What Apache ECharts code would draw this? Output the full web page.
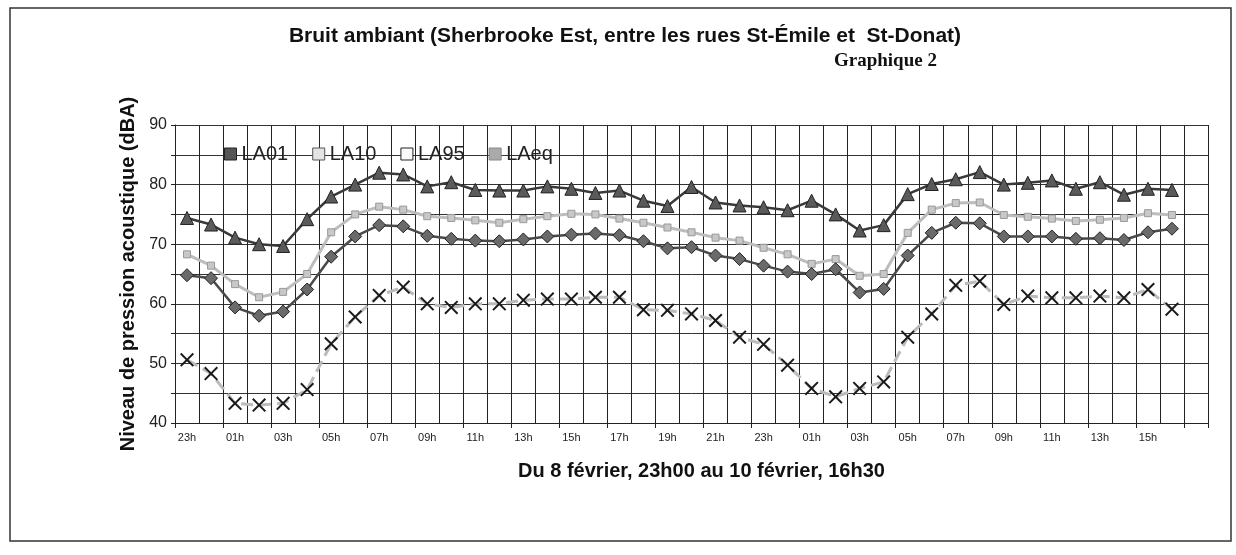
<!DOCTYPE html>
<html>
<head>
<meta charset="utf-8">
<script src="https://cdn.jsdelivr.net/npm/echarts@6/dist/echarts.min.js"></script>
<style>
  html, body { margin: 0; padding: 0; background: #fff; }
  #container { width: 1236px; height: 555px; }
</style>
</head>
<body>
<div id="container"></div>
<script>
// heures, du 8 fevrier 23h au 10 fevrier 17h (derniere case vide)
var hours = ['23h','00h','01h','02h','03h','04h','05h','06h','07h','08h','09h','10h','11h','12h',
             '13h','14h','15h','16h','17h','18h','19h','20h','21h','22h','23h','00h','01h','02h',
             '03h','04h','05h','06h','07h','08h','09h','10h','11h','12h','13h','14h','15h','16h','17h'];

var la01 = [74.4,73.3,71.1,70.0,69.7,74.2,78.0,80.0,82.0,81.7,79.7,80.4,79.1,79.0,79.0,79.7,79.3,78.6,
            79.0,77.3,76.4,79.6,77.0,76.5,76.2,75.7,77.3,75.0,72.3,73.2,78.4,80.1,80.9,82.1,80.0,80.3,
            80.7,79.3,80.4,78.3,79.3,79.1];
var la10 = [64.8,64.3,59.4,58.0,58.7,62.4,67.9,71.3,73.2,73.0,71.4,70.9,70.6,70.5,70.8,71.3,71.6,71.8,
            71.5,70.5,69.3,69.5,68.1,67.5,66.4,65.4,65.0,65.8,61.9,62.5,68.1,71.9,73.6,73.5,71.3,71.3,
            71.3,70.9,71.0,70.7,72.0,72.6];
var la95 = [50.6,48.3,43.3,43.0,43.3,45.6,53.3,57.8,61.4,62.8,60.0,59.4,60.0,60.0,60.6,60.8,60.8,61.1,
            61.1,59.0,58.9,58.3,57.2,54.4,53.2,49.7,45.8,44.4,45.8,46.9,54.4,58.3,63.1,63.8,59.9,61.3,
            61.0,61.0,61.3,61.0,62.4,59.1];
var laeq = [68.3,66.4,63.3,61.1,62.0,65.0,72.0,75.0,76.3,75.8,74.7,74.4,74.0,73.6,74.2,74.7,75.1,75.0,
            74.3,73.6,72.8,72.0,71.1,70.6,69.4,68.3,66.7,67.5,64.7,65.0,71.9,75.8,76.9,77.0,74.9,74.6,
            74.3,73.9,74.1,74.4,75.2,74.9];

var crossPath = 'path://M0,1 L1,0 L5,4 L9,0 L10,1 L6,5 L10,9 L9,10 L5,6 L1,10 L0,9 L4,5 Z';

var myChart = echarts.init(document.getElementById('container'));
var option = {
    backgroundColor: '#fff',
    animation: false,
    graphic: [{
        type: 'rect',
        shape: { x: 10, y: 8, width: 1221, height: 533 },
        style: { fill: 'none', stroke: '#333', lineWidth: 1.5 },
        silent: true
    }],
    title: [{
        text: 'Bruit ambiant (Sherbrooke Est, entre les rues St-Émile et  St-Donat)',
        left: 620, top: 21, textAlign: 'center',
        textStyle: { fontFamily: 'Liberation Sans, Arial', fontWeight: 'bold', fontSize: 21, color: '#111' }
    }, {
        text: 'Graphique 2',
        left: 829, top: 47,
        textStyle: { fontFamily: 'Liberation Serif, Times New Roman', fontWeight: 'bold', fontSize: 19, color: '#111' }
    }],
    legend: {
        left: 219, top: 139,
        itemGap: 24,
        itemWidth: 12, itemHeight: 12,
        icon: 'rect',
        textStyle: { fontFamily: 'Liberation Sans, Arial', fontSize: 20, color: '#222' },
        data: [
            { name: 'LA01', itemStyle: { color: '#555', borderColor: '#222', borderWidth: 1 } },
            { name: 'LA10', itemStyle: { color: '#e4e4e4', borderColor: '#555', borderWidth: 1 } },
            { name: 'LA95', itemStyle: { color: '#fafafa', borderColor: '#222', borderWidth: 1 } },
            { name: 'LAeq', itemStyle: { color: '#aaa', borderColor: '#888', borderWidth: 1 } }
        ]
    },
    grid: { left: 175, right: 28, top: 125, bottom: 132 },
    xAxis: {
        type: 'category',
        data: hours,
        boundaryGap: true,
        name: 'Du 8 février, 23h00 au 10 février, 16h30',
        nameLocation: 'middle',
        nameGap: 38,
        nameTextStyle: { fontFamily: 'Liberation Sans, Arial', fontWeight: 'bold', fontSize: 20, color: '#111', padding: [0, 0, 0, 20] },
        axisLine: { lineStyle: { color: '#222', width: 1 } },
        axisTick: { show: true, interval: 1, length: 5, lineStyle: { color: '#222' } },
        axisLabel: {
            interval: function (i) { return i % 2 === 0 && i < hours.length - 1; },
            fontFamily: 'Liberation Sans, Arial', fontSize: 11, color: '#222', margin: 9
        },
        splitLine: { show: true, interval: 0, lineStyle: { color: '#222', width: 1 } }
    },
    yAxis: {
        type: 'value',
        min: 40, max: 90, interval: 5,
        name: 'Niveau de pression acoustique (dBA)',
        nameLocation: 'middle',
        nameGap: 35,
        nameTextStyle: { fontFamily: 'Liberation Sans, Arial', fontWeight: 'bold', fontSize: 20, color: '#111' },
        axisLine: { show: true, lineStyle: { color: '#222', width: 1 } },
        axisTick: { show: true, length: 4, lineStyle: { color: '#222' } },
        axisLabel: {
            fontFamily: 'Liberation Sans, Arial', fontSize: 16, color: '#222', margin: 8,
            formatter: function (v) { return v % 10 === 0 ? v : ''; }
        },
        splitLine: { show: true, lineStyle: { color: '#333', width: 1 } }
    },
    series: [{
        name: 'LA01', type: 'line', data: la01,
        symbol: 'triangle', symbolSize: 13,
        lineStyle: { color: '#3a3a3a', width: 2.5 },
        itemStyle: { color: '#5a5a5a', borderColor: '#222', borderWidth: 1 },
        z: 4
    }, {
        name: 'LA10', type: 'line', data: la10,
        symbol: 'diamond', symbolSize: 13,
        lineStyle: { color: '#4a4a4a', width: 2.5 },
        itemStyle: { color: '#6a6a6a', borderColor: '#222', borderWidth: 1 },
        z: 3
    }, {
        name: 'LA95', type: 'line', data: la95,
        symbol: crossPath, symbolSize: 14,
        lineStyle: { color: '#bbb', width: 3, type: 'dashed' },
        itemStyle: { color: '#1a1a1a' },
        z: 2
    }, {
        name: 'LAeq', type: 'line', data: laeq,
        symbol: 'rect', symbolSize: 7,
        lineStyle: { color: '#bdbdbd', width: 3 },
        itemStyle: { color: '#c8c8c8', borderColor: '#999', borderWidth: 1 },
        z: 2
    }]
};
myChart.setOption(option);
</script>
</body>
</html>
